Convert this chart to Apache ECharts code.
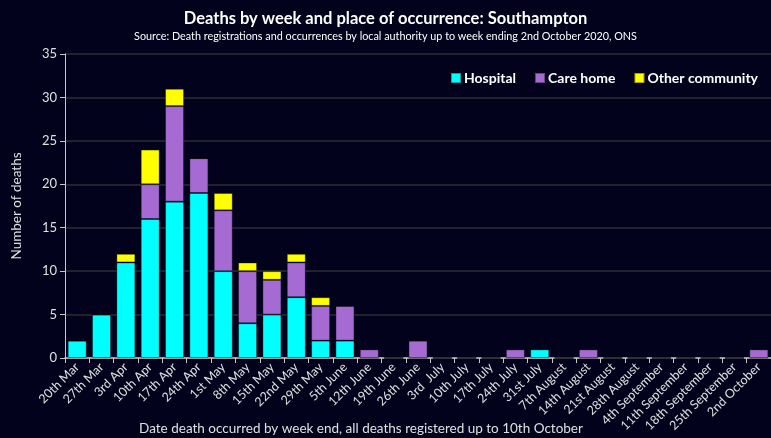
<!DOCTYPE html>
<html><head><meta charset="utf-8">
<script src="https://cdn.jsdelivr.net/npm/echarts@6/dist/echarts.min.js"></script>
<style>html,body{margin:0;padding:0;background:#02021c;}#c{width:771px;height:438px;}</style>
</head><body><div id="c"></div>
<script>
const categories = ["20th Mar","27th Mar","3rd Apr","10th Apr","17th Apr","24th Apr","1st May","8th May","15th May","22nd May","29th May","5th June","12th June","19th June","26th June","3rd  July","10th July","17th July","24th July","31st July","7th August","14th August","21st August","28th August","4th September","11th September","18th September","25th September","2nd October"];
const hospital  = [2,5,11,16,18,19,10,4,5,7,2,2,0,0,0,0,0,0,0,1,0,0,0,0,0,0,0,0,0];
const careHome  = [0,0,0,4,11,4,7,6,4,4,4,4,1,0,2,0,0,0,1,0,0,1,0,0,0,0,0,0,1];
const otherComm = [0,0,1,4,2,0,2,1,1,1,1,0,0,0,0,0,0,0,0,0,0,0,0,0,0,0,0,0,0];
const yTicks = [0,5,10,15,20,25,30,35];

const FONT = 'Lato, "Open Sans", sans-serif';
const chart = echarts.init(document.getElementById('c'));
const mk = (name, data, color) => ({
  name, type: 'bar', stack: 'total', data,
  barCategoryGap: '22%',
  itemStyle: { color, borderColor: 'rgba(0,0,0,0.35)', borderWidth: 1 }
});
chart.setOption({
  backgroundColor: '#02021c',
  animation: false,
  textStyle: { fontFamily: FONT },
  title: {
    text: 'Deaths by week and place of occurrence: Southampton',
    subtext: 'Source: Death registrations and occurrences by local authority up to week ending 2nd October 2020, ONS',
    left: 'center', top: 5, itemGap: 4,
    textStyle: { color: '#ffffff', fontSize: 16.5, fontWeight: 'bold', fontFamily: FONT },
    subtextStyle: { color: '#ffffff', fontSize: 10.8, fontFamily: FONT }
  },
  legend: {
    right: 8, top: 66, itemWidth: 10, itemHeight: 10, itemGap: 18,
    icon: 'rect',
    textStyle: { color: '#ffffff', fontSize: 14, fontWeight: 'bold', fontFamily: FONT, padding: [0,0,0,-2] },
    data: ['Hospital','Care home','Other community']
  },
  grid: { left: 65, right: 0, top: 54, bottom: 80, containLabel: false, outerBoundsMode: 'none' },
  xAxis: {
    type: 'category', data: categories,
    name: 'Date death occurred by week end, all deaths registered up to 10th October',
    nameLocation: 'middle', nameGap: 64, nameMoveOverlap: false,
    nameTextStyle: { color: '#e0e0e0', fontSize: 13.5, fontFamily: FONT, padding: [0, 114, 0, 0] },
    axisLine: { lineStyle: { color: '#c8c8c8', width: 1.5 } },
    axisTick: { show: true, alignWithLabel: false, lineStyle: { color: '#c8c8c8' } },
    axisLabel: { color: '#e0e0e0', fontSize: 12.5, rotate: 45, interval: 0, margin: 7, fontFamily: FONT }
  },
  yAxis: {
    type: 'value', min: yTicks[0], max: yTicks[yTicks.length-1], interval: 5,
    name: 'Number of deaths', nameLocation: 'middle', nameGap: 41, nameMoveOverlap: false,
    nameTextStyle: { color: '#e0e0e0', fontSize: 13.5, fontFamily: FONT },
    axisLine: { show: true, lineStyle: { color: '#c8c8c8' } },
    axisTick: { show: true, lineStyle: { color: '#c8c8c8' } },
    axisLabel: { color: '#e0e0e0', fontSize: 13, fontFamily: FONT },
    splitLine: { lineStyle: { color: '#2e2e36', width: 1.5 } }
  },
  series: [
    mk('Hospital', hospital, '#00ffff'),
    mk('Care home', careHome, '#a66bd3'),
    mk('Other community', otherComm, '#ffff00')
  ]
});
</script></body></html>
